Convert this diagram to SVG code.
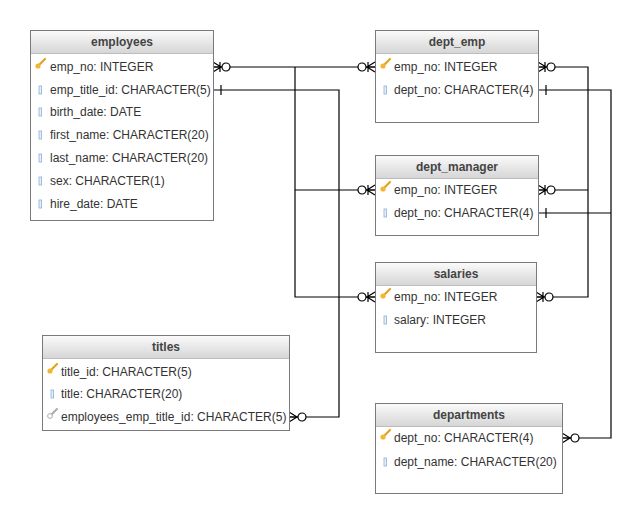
<svg xmlns="http://www.w3.org/2000/svg" xmlns:xlink="http://www.w3.org/1999/xlink" width="641" height="523" viewBox="0 0 641 523">
<style>
.box{fill:#fff;stroke:#7a7a7a;stroke-width:1}
.hdr{fill:url(#hg);stroke:none}
.hl{stroke:#bdbdbd;stroke-width:1}
.t{font-family:"Liberation Sans",Arial,sans-serif;font-size:12px;fill:#333}
.h{font-family:"Liberation Sans",Arial,sans-serif;font-size:12px;font-weight:bold;fill:#444;text-anchor:middle}
.c{fill:none;stroke:#000;stroke-width:1.2}
.sym{fill:none;stroke:#000;stroke-width:1.2}
.col{fill:#e6eef9;stroke:#8fb0dc;stroke-width:0.8}
</style>
<defs>
<linearGradient id="hg" x1="0" y1="0" x2="0" y2="1">
<stop offset="0" stop-color="#fafafa"/>
<stop offset="1" stop-color="#d6d6d6"/>
</linearGradient>
<g id="key">
<line x1="0" y1="6" x2="7" y2="-1" stroke="#e2a21b" stroke-width="2.2" stroke-linecap="round"/>
<circle cx="0" cy="6" r="2.6" fill="#f0b830"/>
</g>
<g id="fkey">
<line x1="0" y1="6" x2="7" y2="-1" stroke="#aaa" stroke-width="2" stroke-linecap="round"/>
<circle cx="0" cy="6" r="2.4" fill="#fff" stroke="#999" stroke-width="0.8"/>
</g>
<rect id="ci" x="0" y="0" width="2.6" height="8" class="col"/>
<g id="mz" class="sym"><path d="M0,-5 L8,0 M0,5 L8,0 M0,0 H9 M7,-5 V5"/><circle cx="13" cy="0" r="4" fill="#fff"/></g>
<g id="mzn" class="sym"><path d="M0,-5 L8,0 M0,5 L8,0 M0,0 H9"/><circle cx="13" cy="0" r="4" fill="#fff"/></g>
<g id="one" class="sym"><path d="M8,-5 V5"/></g>
</defs>
<rect width="641" height="523" fill="#fff"/>

<g id="connectors">
<path class="c" d="M213,67 H375 M295,67 V297 H375 M295,190 H375"/>
<path class="c" d="M213,90 H339 V417 H289"/>
<path class="c" d="M538,67 H588 V297 H536 M588,190 H538"/>
<path class="c" d="M538,90 H611 V438 H562 M538,213 H611"/>
<use xlink:href="#mz" transform="translate(213,67)"/>
<use xlink:href="#mz" transform="translate(375,67) scale(-1,1)"/>
<use xlink:href="#mz" transform="translate(375,190) scale(-1,1)"/>
<use xlink:href="#mz" transform="translate(375,297) scale(-1,1)"/>
<use xlink:href="#one" transform="translate(213,90)"/>
<use xlink:href="#mzn" transform="translate(289,417)"/>
<use xlink:href="#mz" transform="translate(538,67)"/>
<use xlink:href="#mz" transform="translate(538,190)"/>
<use xlink:href="#mz" transform="translate(536,297)"/>
<use xlink:href="#one" transform="translate(538,90)"/>
<use xlink:href="#one" transform="translate(538,213)"/>
<use xlink:href="#mzn" transform="translate(562,438)"/>
</g>

<g id="employees">
<rect class="box" x="30.5" y="30.5" width="183" height="190"/>
<rect class="hdr" x="31" y="31" width="182" height="22"/>
<line class="hl" x1="31" y1="53.5" x2="213" y2="53.5"/>
<text class="h" x="122" y="46">employees</text>
<use xlink:href="#key" x="38" y="60"/>
<text class="t" x="50" y="71">emp_no: INTEGER</text>
<use xlink:href="#ci" x="39" y="86"/>
<text class="t" x="50" y="94">emp_title_id: CHARACTER(5)</text>
<use xlink:href="#ci" x="39" y="108"/>
<text class="t" x="50" y="116">birth_date: DATE</text>
<use xlink:href="#ci" x="39" y="131"/>
<text class="t" x="50" y="139">first_name: CHARACTER(20)</text>
<use xlink:href="#ci" x="39" y="154"/>
<text class="t" x="50" y="162">last_name: CHARACTER(20)</text>
<use xlink:href="#ci" x="39" y="177"/>
<text class="t" x="50" y="185">sex: CHARACTER(1)</text>
<use xlink:href="#ci" x="39" y="200"/>
<text class="t" x="50" y="208">hire_date: DATE</text>
</g>

<g id="dept_emp">
<rect class="box" x="375.5" y="30.5" width="163" height="92"/>
<rect class="hdr" x="376" y="31" width="162" height="22"/>
<line class="hl" x1="376" y1="53.5" x2="538" y2="53.5"/>
<text class="h" x="457" y="46">dept_emp</text>
<use xlink:href="#key" x="383" y="60"/>
<text class="t" x="394" y="71">emp_no: INTEGER</text>
<use xlink:href="#ci" x="384" y="86"/>
<text class="t" x="394" y="94">dept_no: CHARACTER(4)</text>
</g>

<g id="dept_manager">
<rect class="box" x="375.5" y="155.5" width="163" height="80"/>
<rect class="hdr" x="376" y="156" width="162" height="22"/>
<line class="hl" x1="376" y1="178.5" x2="538" y2="178.5"/>
<text class="h" x="457" y="171">dept_manager</text>
<use xlink:href="#key" x="383" y="183"/>
<text class="t" x="394" y="194">emp_no: INTEGER</text>
<use xlink:href="#ci" x="384" y="209"/>
<text class="t" x="394" y="217">dept_no: CHARACTER(4)</text>
</g>

<g id="salaries">
<rect class="box" x="375.5" y="262.5" width="161" height="90"/>
<rect class="hdr" x="376" y="263" width="160" height="22"/>
<line class="hl" x1="376" y1="285.5" x2="536" y2="285.5"/>
<text class="h" x="456" y="278">salaries</text>
<use xlink:href="#key" x="383" y="290"/>
<text class="t" x="394" y="301">emp_no: INTEGER</text>
<use xlink:href="#ci" x="384" y="316"/>
<text class="t" x="394" y="324">salary: INTEGER</text>
</g>

<g id="titles">
<rect class="box" x="42.5" y="335.5" width="247" height="95"/>
<rect class="hdr" x="43" y="336" width="246" height="22"/>
<line class="hl" x1="43" y1="358.5" x2="289" y2="358.5"/>
<text class="h" x="166" y="351">titles</text>
<use xlink:href="#key" x="50" y="365"/>
<text class="t" x="61" y="376">title_id: CHARACTER(5)</text>
<use xlink:href="#ci" x="51" y="390"/>
<text class="t" x="61" y="398">title: CHARACTER(20)</text>
<use xlink:href="#fkey" x="50" y="410"/>
<text class="t" x="61" y="421">employees_emp_title_id: CHARACTER(5)</text>
</g>

<g id="departments">
<rect class="box" x="375.5" y="403.5" width="187" height="90"/>
<rect class="hdr" x="376" y="404" width="186" height="22"/>
<line class="hl" x1="376" y1="426.5" x2="562" y2="426.5"/>
<text class="h" x="469" y="419">departments</text>
<use xlink:href="#key" x="383" y="431"/>
<text class="t" x="394" y="442">dept_no: CHARACTER(4)</text>
<use xlink:href="#ci" x="384" y="458"/>
<text class="t" x="394" y="466">dept_name: CHARACTER(20)</text>
</g>
</svg>
